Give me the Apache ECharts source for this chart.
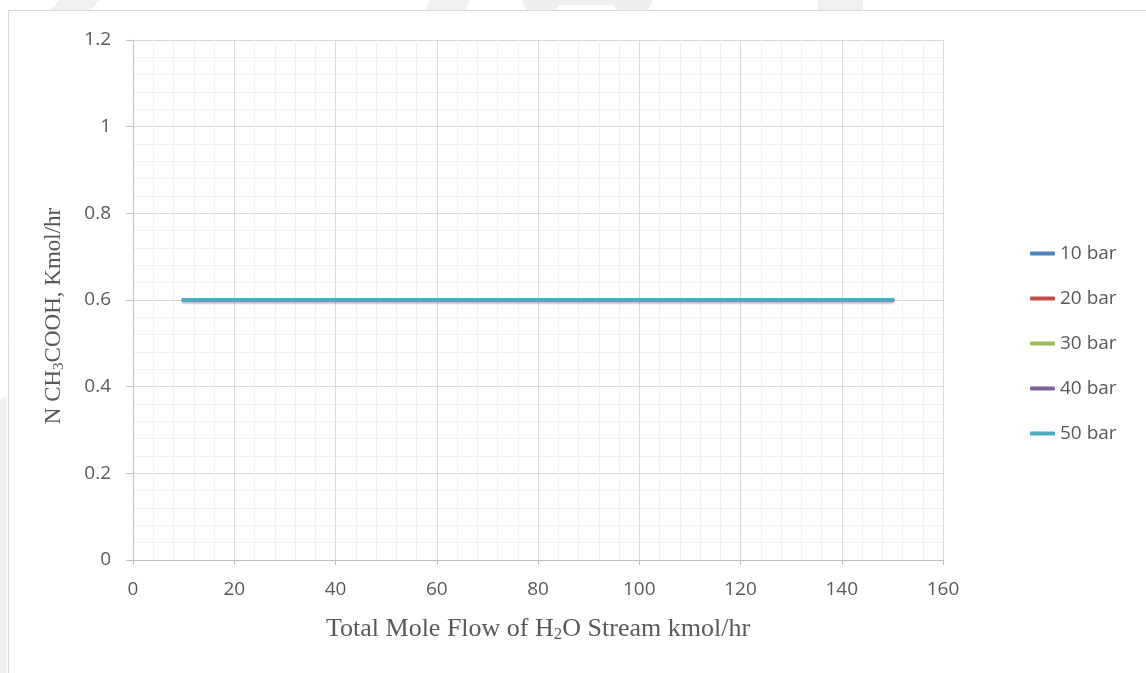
<!DOCTYPE html>
<html>
<head>
<meta charset="utf-8">
<script src="https://cdn.jsdelivr.net/npm/echarts@6/dist/echarts.min.js"></script>
<style>
  html, body { margin: 0; padding: 0; background: #ffffff; }
  #chart { width: 1146px; height: 673px; }
</style>
</head>
<body>
<div id="chart"></div>
<script>
// Total mole flow of the H2O stream, kmol/hr
const flowH2O = [10, 20, 30, 40, 50, 60, 70, 80, 90, 100, 110, 120, 130, 140, 150];

// Acetic acid outlet flow at each pressure, Kmol/hr
const bar10 = [0.6, 0.6, 0.6, 0.6, 0.6, 0.6, 0.6, 0.6, 0.6, 0.6, 0.6, 0.6, 0.6, 0.6, 0.6];
const bar20 = [0.6, 0.6, 0.6, 0.6, 0.6, 0.6, 0.6, 0.6, 0.6, 0.6, 0.6, 0.6, 0.6, 0.6, 0.6];
const bar30 = [0.6, 0.6, 0.6, 0.6, 0.6, 0.6, 0.6, 0.6, 0.6, 0.6, 0.6, 0.6, 0.6, 0.6, 0.6];
const bar40 = [0.6, 0.6, 0.6, 0.6, 0.6, 0.6, 0.6, 0.6, 0.6, 0.6, 0.6, 0.6, 0.6, 0.6, 0.6];
const bar50 = [0.6, 0.6, 0.6, 0.6, 0.6, 0.6, 0.6, 0.6, 0.6, 0.6, 0.6, 0.6, 0.6, 0.6, 0.6];

const seriesNames = ['10 bar', '20 bar', '30 bar', '40 bar', '50 bar'];
const seriesValues = [bar10, bar20, bar30, bar40, bar50];
const seriesColors = ['#4f81bd', '#c0504d', '#9bbb59', '#8064a2', '#4bacc6'];

const tickFont = '"Open Sans", "Liberation Sans", sans-serif';
const titleFont = '"Liberation Serif", "DejaVu Serif", serif';

const chart = echarts.init(document.getElementById('chart'), null, { renderer: 'canvas' });

const xTitleRich = {
  t: { fontFamily: titleFont, fontSize: 26, color: '#595959', lineHeight: 30 },
  s: { fontFamily: titleFont, fontSize: 17, color: '#595959', lineHeight: 30, padding: [12, 0, 0, 0] }
};
const yTitleRich = {
  t: { fontFamily: titleFont, fontSize: 23, color: '#595959', lineHeight: 27 },
  s: { fontFamily: titleFont, fontSize: 15, color: '#595959', lineHeight: 27, padding: [11, 0, 0, 0] }
};

chart.setOption({
  animation: false,
  backgroundColor: '#ffffff',
  graphic: [
    // faint background marks along the top edge
    { type: 'polygon', silent: true, z: -10, shape: { points: [[60, 0], [100, 0], [90, 10], [50, 10]] }, style: { fill: '#f0f0f0' } },
    { type: 'polygon', silent: true, z: -10, shape: { points: [[430, 0], [470, 0], [465, 10], [425, 10]] }, style: { fill: '#f0f0f0' } },
    { type: 'polygon', silent: true, z: -10, shape: { points: [[522, 0], [560, 0], [613, 0], [653, 0], [648, 10], [618, 10], [613, 5], [560, 5], [556, 10], [526, 10]] }, style: { fill: '#efefef' } },
    { type: 'polygon', silent: true, z: -10, shape: { points: [[818, 0], [863, 0], [863, 10], [818, 10]] }, style: { fill: '#f0f0f0' } },
    { type: 'polygon', silent: true, z: -10, shape: { points: [[0, 400], [7, 395], [7, 673], [0, 673]] }, style: { fill: '#f2f2f2' } },
    // chart area frame
    { type: 'rect', silent: true, z: -5, shape: { x: 8.5, y: 10.5, width: 1200, height: 700 }, style: { fill: '#ffffff', stroke: '#d9d9d9', lineWidth: 1 } }
  ],
  grid: { left: 133, right: 203, top: 40, bottom: 113, containLabel: false },
  legend: {
    orient: 'vertical',
    left: 1030,
    top: 242,
    padding: 0,
    itemWidth: 25,
    itemHeight: 4,
    itemGap: 22,
    icon: 'roundRect',
    data: seriesNames,
    textStyle: { fontFamily: tickFont, fontSize: 19, color: '#595959', lineHeight: 23 }
  },
  xAxis: {
    type: 'value',
    min: 0,
    max: 160,
    interval: 20,
    name: '{t|Total Mole Flow of H}{s|2}{t|O Stream kmol/hr}',
    nameLocation: 'middle',
    nameGap: 54,
    nameTextStyle: { rich: xTitleRich },
    axisLine: { show: true, onZero: false, lineStyle: { color: '#bfbfbf', width: 1 } },
    axisTick: { show: true, length: 5, lineStyle: { color: '#bfbfbf' } },
    axisLabel: { fontFamily: tickFont, fontSize: 19, color: '#595959', margin: 20 },
    splitLine: { show: true, lineStyle: { color: '#d9d9d9', width: 1 } },
    minorTick: { show: false, splitNumber: 5 },
    minorSplitLine: { show: true, lineStyle: { color: '#f0f0f0', width: 1 } }
  },
  yAxis: {
    type: 'value',
    min: 0,
    max: 1.2,
    interval: 0.2,
    name: '{t|N CH}{s|3}{t|COOH, Kmol/hr}',
    nameLocation: 'middle',
    nameRotate: 90,
    nameGap: 66,
    nameTextStyle: { rich: yTitleRich, padding: [0, 32, 0, 0] },
    axisLine: { show: true, lineStyle: { color: '#bfbfbf', width: 1 } },
    axisTick: { show: true, length: 7, lineStyle: { color: '#bfbfbf' } },
    axisLabel: { fontFamily: tickFont, fontSize: 19, color: '#595959', margin: 22,
      formatter: v => String(Math.round(v * 10) / 10) },
    splitLine: { show: true, lineStyle: { color: '#d9d9d9', width: 1 } },
    minorTick: { show: false, splitNumber: 5 },
    minorSplitLine: { show: true, lineStyle: { color: '#f0f0f0', width: 1 } }
  },
  series: seriesNames.map((name, i) => ({
    name: name,
    type: 'line',
    data: flowH2O.map((x, j) => [x, seriesValues[i][j]]),
    showSymbol: false,
    symbol: 'none',
    color: seriesColors[i],
    lineStyle: Object.assign({
      color: seriesColors[i],
      width: 4,
      cap: 'round'
    }, i === seriesNames.length - 1 ? {
      shadowColor: 'rgba(0,0,0,0.3)',
      shadowBlur: 2,
      shadowOffsetY: 1.5
    } : {}),
    z: 2 + i
  }))
});
</script>
</body>
</html>
